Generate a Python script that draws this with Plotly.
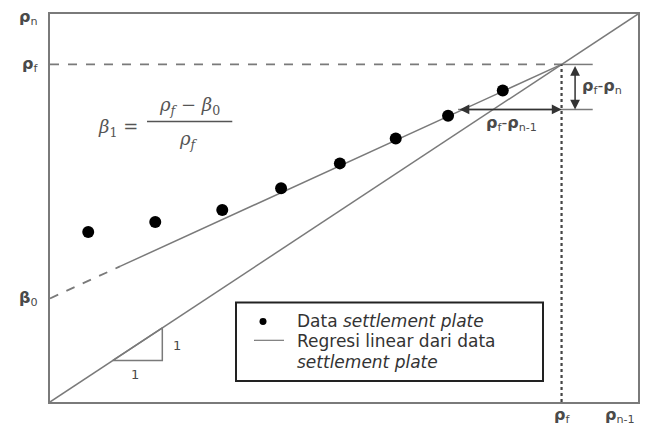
import plotly.graph_objects as go

# ---- data (axis units, 0..10 on both axes) ----
x_data = [0.65, 1.79, 2.93, 3.93, 4.93, 5.88, 6.77, 7.70]
y_data = [4.38, 4.64, 4.95, 5.51, 6.15, 6.79, 7.38, 8.03]
diag_x = [0, 10]
diag_y = [0, 10]
rho_f = 8.70          # intersection of regression with 1:1 line
beta0 = 2.67          # intercept of regression
reg_start = 1.19      # where solid regression line starts
y_lower = 7.54        # level of rho_{n-1} arrow line
x_right = 9.23        # right end of short reference lines
x_varrow = 8.93       # x of vertical double arrow
x_harrow_left = 6.94  # left end of horizontal double arrow
tri_x = [1.07, 1.91, 1.91, 1.07]
tri_y = [1.07, 1.07, 1.91, 1.07]
legend_labels = ["Data <i>settlement plate</i>",
                 "Regresi linear dari data",
                 "<i>settlement plate</i>"]

beta1 = (rho_f - beta0) / rho_f

def reg(x):
    return beta0 + beta1 * x

GRAY = "#7a7a7a"
TXT = "#4a4a4a"

fig = go.Figure()

fig.add_trace(go.Scatter(x=diag_x, y=diag_y, mode="lines",
                         line=dict(color=GRAY, width=1.5), showlegend=False))
fig.add_trace(go.Scatter(x=[0, reg_start], y=[reg(0), reg(reg_start)], mode="lines",
                         line=dict(color=GRAY, width=1.8, dash="dash"), showlegend=False))
fig.add_trace(go.Scatter(x=[reg_start, rho_f], y=[reg(reg_start), reg(rho_f)], mode="lines",
                         line=dict(color=GRAY, width=1.5), showlegend=False))
fig.add_trace(go.Scatter(x=[0, rho_f], y=[rho_f, rho_f], mode="lines",
                         line=dict(color=GRAY, width=1.8, dash="dash"), showlegend=False))
fig.add_trace(go.Scatter(x=[rho_f, x_right], y=[rho_f, rho_f], mode="lines",
                         line=dict(color=GRAY, width=1.5), showlegend=False))
fig.add_trace(go.Scatter(x=[x_harrow_left, x_right], y=[y_lower, y_lower], mode="lines",
                         line=dict(color=GRAY, width=1.5), showlegend=False))
fig.add_trace(go.Scatter(x=[rho_f, rho_f], y=[0, rho_f], mode="lines",
                         line=dict(color="#444", width=2.2, dash="dot"), showlegend=False))
fig.add_trace(go.Scatter(x=tri_x, y=tri_y, mode="lines",
                         line=dict(color=GRAY, width=1.5), showlegend=False))
fig.add_trace(go.Scatter(x=x_data, y=y_data, mode="markers",
                         marker=dict(color="black", size=12), showlegend=False))

# pixel helpers for annotation/legend placement (plot area 588x390 px)
def dx(px):
    return (px - 50) / 58.8

def dy(py):
    return (402 - py) / 39.0

ann = []
lab = dict(family="DejaVu Sans", size=16, color=TXT)
for txt, yv, ys in [("<b>ρ</b><sub>n</sub>", 10, -3), ("<b>ρ</b><sub>f</sub>", rho_f, 0),
                    ("<b>β</b><sub>0</sub>", beta0, 0)]:
    ann.append(dict(x=0, y=yv, xref="paper", yref="y", text=txt, showarrow=False,
                    xanchor="right", yanchor="middle", xshift=-10, yshift=ys, font=lab))
ann.append(dict(x=rho_f, y=0, xref="x", yref="paper", text="<b>ρ</b><sub>f</sub>", showarrow=False,
                xanchor="center", yanchor="top", yshift=-1, font=lab))
ann.append(dict(x=9.40, y=0, xref="x", yref="paper", text="<b>ρ</b><sub>n-1</sub>", showarrow=False,
                xanchor="left", yanchor="top", yshift=-1, font=lab))
ann.append(dict(x=9.02, y=(rho_f + y_lower) / 2, text="<b>ρ</b><sub>f</sub>-<b>ρ</b><sub>n</sub>",
                showarrow=False, xanchor="left", yanchor="middle", font=lab))
ann.append(dict(x=7.85, y=y_lower - 0.05, text="<b>ρ</b><sub>f</sub>-<b>ρ</b><sub>n-1</sub>",
                showarrow=False, xanchor="center", yanchor="top", font=lab))
for (x0, y0, x1, y1) in [(x_varrow, rho_f, x_varrow, y_lower), (x_harrow_left, y_lower, rho_f, y_lower)]:
    ann.append(dict(x=x1, y=y1, ax=x0, ay=y0, xref="x", yref="y", axref="x", ayref="y",
                    text="", showarrow=True, arrowhead=2, startarrowhead=2,
                    arrowside="end+start", arrowsize=1.3, arrowwidth=1.5, arrowcolor="#333"))
small = dict(family="DejaVu Sans", size=13, color=TXT)
ann.append(dict(x=2.05, y=1.45, text="1", showarrow=False, xanchor="left", font=small))
ann.append(dict(x=1.45, y=0.95, text="1", showarrow=False, yanchor="top", font=small))
ff = dict(family="DejaVu Serif", size=18, color="#555")
ann.append(dict(x=1.15, y=7.05, text="<i>β</i><sub>1</sub> =", showarrow=False,
                xanchor="center", yanchor="middle", font=ff))
ann.append(dict(x=2.38, y=7.28, text="<i>ρ<sub>f</sub></i> − <i>β</i><sub>0</sub>", showarrow=False,
                xanchor="center", yanchor="bottom", font=ff))
ann.append(dict(x=2.35, y=7.12, text="<i>ρ<sub>f</sub></i>", showarrow=False,
                xanchor="center", yanchor="top", font=ff))

# manual legend
lf = dict(family="DejaVu Sans", size=17, color="#333")
for txt, py in zip(legend_labels, [321, 341, 362]):
    ann.append(dict(x=dx(295), y=dy(py), text=txt, showarrow=False,
                    xanchor="left", yanchor="middle", font=lf))

shapes = [
    dict(type="line", x0=1.65, x1=3.10, y0=7.23, y1=7.23, line=dict(color="#555", width=1.5)),
    dict(type="rect", x0=dx(236), x1=dx(543), y0=dy(302), y1=dy(381),
         line=dict(color="#222", width=2), fillcolor="white", layer="above"),
    dict(type="circle", x0=dx(259.5), x1=dx(266.5), y0=dy(317.5), y1=dy(324.5),
         line=dict(width=0), fillcolor="black", layer="above"),
    dict(type="line", x0=dx(254), x1=dx(284), y0=dy(340), y1=dy(340),
         line=dict(color=GRAY, width=1.2), layer="above"),
]

fig.update_layout(
    width=644, height=418,
    margin=dict(l=42, r=14, t=4, b=24),
    paper_bgcolor="white", plot_bgcolor="white",
    showlegend=False,
    xaxis=dict(range=[0, 10], showgrid=False, zeroline=False, showticklabels=False,
               ticks="", showline=True, mirror=True, linecolor=GRAY, linewidth=2),
    yaxis=dict(range=[0, 10], showgrid=False, zeroline=False, showticklabels=False,
               ticks="", showline=True, mirror=True, linecolor=GRAY, linewidth=2),
    annotations=ann, shapes=shapes,
)

fig.write_html("out.html")
